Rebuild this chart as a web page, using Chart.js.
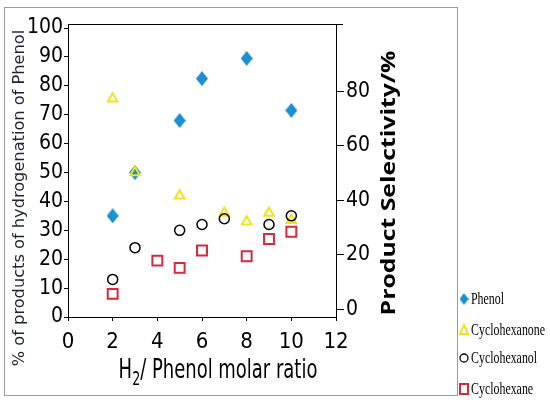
<!DOCTYPE html>
<html>
<head>
<meta charset="utf-8">
<script src="https://cdn.jsdelivr.net/npm/chart.js@4"></script>
<style>
  html, body { margin: 0; padding: 0; background: #fff; }
  #wrap { width: 550px; height: 405px; position: relative; }
</style>
</head>
<body>
<div id="wrap"><canvas id="myChart"></canvas></div>
<script>
// H2/phenol molar ratio for each measured point
const phenolX = [2, 3, 5, 6, 8, 10];
const phenolY = [35, 50, 68, 82.5, 89.5, 71.5];

const anoneX = [2, 3, 5, 7, 8, 9, 10];
const anoneY = [75.5, 50, 42, 36, 33, 36, 33.5];

const anolX = [2, 3, 5, 6, 7, 9, 10];
const anolY = [13, 24, 30, 32, 34, 32, 35];

const aneX = [2, 4, 5, 6, 8, 9, 10];
const aneY = [8, 19.5, 17, 23, 21, 27, 29.5];

const xTicks = [0, 2, 4, 6, 8, 10, 12];
const leftTicks = [0, 10, 20, 30, 40, 50, 60, 70, 80, 90, 100];
const rightTicks = [0, 20, 40, 60, 80];

const seriesNames = ['Phenol', 'Cyclohexanone', 'Cyclohexanol', 'Cyclohexane'];

const BLUE = '#1b8fd2';
const YELLOW = '#f2e21c';
const RED = '#d8283c';
const numFont = '"Liberation Sans Narrow", "DejaVu Sans Condensed", sans-serif';

function pts(xs, ys) {
  return xs.map((x, i) => ({ x: x, y: ys[i] }));
}

// tall diamond used for the phenol markers
function diamond(w, h) {
  const c = document.createElement('canvas');
  c.width = w; c.height = h;
  const g = c.getContext('2d');
  g.fillStyle = BLUE;
  g.beginPath();
  g.moveTo(w / 2, 0);
  g.lineTo(w, h / 2);
  g.lineTo(w / 2, h);
  g.lineTo(0, h / 2);
  g.closePath();
  g.fill();
  return c;
}

// draws text stretched (sx) along its own direction
function stretchText(ctx, text, x, y, rot, sx) {
  ctx.save();
  ctx.translate(x, y);
  ctx.rotate(rot);
  ctx.scale(sx, 1);
  ctx.fillText(text, 0, 0);
  ctx.restore();
}

const frame = {
  id: 'frame',
  afterDraw(chart) {
    const ctx = chart.ctx;
    const a = chart.chartArea;
    ctx.save();
    // outer grey box
    ctx.strokeStyle = '#9a9a9a';
    ctx.lineWidth = 1;
    ctx.strokeRect(4.5, 7.5, 453, 388);
    // top line
    ctx.strokeStyle = '#000';
    ctx.beginPath();
    ctx.moveTo(a.left, a.top + 0.5);
    ctx.lineTo(a.right + 7, a.top + 0.5);
    ctx.stroke();

    ctx.textAlign = 'center';
    ctx.textBaseline = 'middle';

    // left title
    ctx.fillStyle = '#1e2233';
    ctx.font = '15px "DejaVu Sans", sans-serif';
    stretchText(ctx, '% of products of hydrogenation of Phenol', 20, 198, -Math.PI / 2, 1.08);

    // right title
    ctx.fillStyle = '#000';
    ctx.font = 'bold 20px "Open Sans", sans-serif';
    stretchText(ctx, 'Product Selectivity/%', 389, 183, -Math.PI / 2, 1.24);

    // x title with subscript
    ctx.textAlign = 'left';
    ctx.textBaseline = 'alphabetic';
    const big = '27px ' + numFont;
    const small = '19px ' + numFont;
    const rest = '/ Phenol molar ratio';
    const sx = 0.74;
    ctx.font = big;
    const wH = ctx.measureText('H').width;
    const wR = ctx.measureText(rest).width;
    ctx.font = small;
    const w2 = ctx.measureText('2').width;
    ctx.save();
    ctx.translate(218, 378);
    ctx.scale(sx, 1);
    let x = -(wH + w2 + wR) / 2;
    ctx.font = big;
    ctx.fillText('H', x, 0);
    x += wH;
    ctx.font = small;
    ctx.fillText('2', x, 7);
    x += w2;
    ctx.font = big;
    ctx.fillText(rest, x, 0);
    ctx.restore();

    // legend
    const ly = [299, 330, 358, 389];
    ctx.font = '17px "Liberation Serif", serif';
    ctx.textBaseline = 'middle';
    const mx = 464;
    seriesNames.forEach((name, i) => {
      const yy = ly[i];
      ctx.lineWidth = 2;
      if (i === 0) {
        ctx.drawImage(diamond(9, 12), mx - 4.5, yy - 6);
      } else if (i === 1) {
        ctx.strokeStyle = YELLOW;
        ctx.beginPath();
        ctx.moveTo(mx, yy - 5);
        ctx.lineTo(mx + 4, yy + 4);
        ctx.lineTo(mx - 4, yy + 4);
        ctx.closePath();
        ctx.stroke();
      } else if (i === 2) {
        ctx.lineWidth = 1.3;
        ctx.strokeStyle = '#000';
        ctx.beginPath();
        ctx.arc(mx, yy, 4, 0, Math.PI * 2);
        ctx.stroke();
      } else {
        ctx.strokeStyle = RED;
        ctx.strokeRect(mx - 4, yy - 5, 8, 10);
      }
      ctx.fillStyle = '#000';
      stretchText(ctx, name, 471, yy + 1, 0, 0.7);
    });
    ctx.restore();
  }
};

const ctx = document.getElementById('myChart').getContext('2d');

const config = {
  type: 'scatter',
  data: {
    datasets: [
      {
        label: seriesNames[0],
        data: pts(phenolX, phenolY),
        pointStyle: diamond(12, 15),
        pointRadius: 7,
        order: 4
      },
      {
        label: seriesNames[1],
        data: pts(anoneX, anoneY),
        pointStyle: 'triangle',
        pointRadius: 5.5,
        borderColor: YELLOW,
        backgroundColor: 'rgba(255,255,255,0)',
        borderWidth: 2,
        order: 3
      },
      {
        label: seriesNames[2],
        data: pts(anolX, anolY),
        pointStyle: 'circle',
        pointRadius: 5,
        borderColor: '#000',
        backgroundColor: 'rgba(255,255,255,0)',
        borderWidth: 1.5,
        order: 2
      },
      {
        label: seriesNames[3],
        data: pts(aneX, aneY),
        pointStyle: 'rect',
        pointRadius: 7,
        borderColor: RED,
        backgroundColor: 'rgba(255,255,255,0)',
        borderWidth: 2,
        order: 1
      }
    ]
  },
  options: {
    responsive: true,
    maintainAspectRatio: false,
    animation: false,
    layout: { padding: { top: 24, left: 0, right: 0, bottom: 0 } },
    plugins: {
      legend: { display: false },
      tooltip: { enabled: false }
    },
    scales: {
      x: {
        type: 'linear',
        min: 0,
        max: 12,
        afterBuildTicks: s => { s.ticks = xTicks.map(v => ({ value: v })); },
        afterFit: s => { s.height = 88; },
        grid: { drawOnChartArea: false, tickLength: 4, color: '#000' },
        border: { color: '#000' },
        ticks: { color: '#000', font: { family: numFont, size: 22 }, padding: 8, maxRotation: 0 }
      },
      y: {
        type: 'linear',
        position: 'left',
        min: 0,
        max: 101.4,
        afterBuildTicks: s => { s.ticks = leftTicks.map(v => ({ value: v })); },
        afterFit: s => { s.width = 68; },
        grid: { drawOnChartArea: false, tickLength: 4, color: '#000' },
        border: { color: '#000' },
        ticks: { color: '#000', font: { family: numFont, size: 21 }, padding: 1 }
      },
      y2: {
        type: 'linear',
        position: 'right',
        min: -2.9,
        max: 104.6,
        afterBuildTicks: s => { s.ticks = rightTicks.map(v => ({ value: v })); },
        afterFit: s => { s.width = 214; },
        grid: { drawOnChartArea: false, tickLength: 8, color: '#000' },
        border: { color: '#000' },
        ticks: { color: '#000', font: { family: numFont, size: 21 }, padding: 2 }
      }
    }
  },
  plugins: [frame]
};

var myChart = new Chart(ctx, config);
</script>
</body>
</html>
